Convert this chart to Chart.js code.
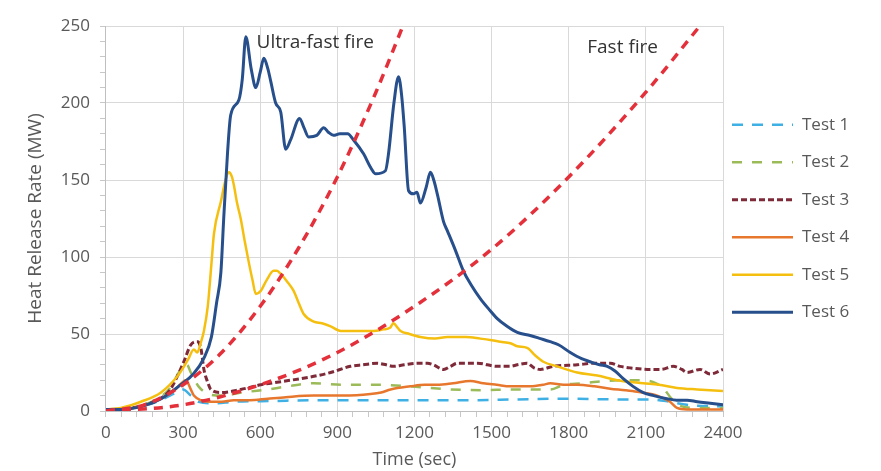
<!DOCTYPE html>
<html>
<head>
<meta charset="utf-8">
<script src="https://cdn.jsdelivr.net/npm/chart.js@4.4.1/dist/chart.umd.min.js"></script>
<style>
    html, body { margin: 0; padding: 0; background: #ffffff; }
    #wrap { position: relative; width: 881px; height: 471px; }
</style>
</head>
<body>
<div id="wrap"><canvas id="hrr-chart"></canvas></div>
<script>
// Heat release rate curves, [time (s), HRR (MW)]
const test1 = [[0,1],[100,2],[200,6],[260,11],[300,14],[330,10],[360,6],[420,5],[497,6],[652,6.5],[800,7],[1000,7],[1200,7],[1400,7],[1600,7.5],[1800,8],[2000,7.5],[2117,7.5],[2194,6],[2260,4],[2400,3]];
const test2 = [[0,1],[100,2],[200,8],[250,15],[291,27],[315,30],[330,25],[360,16],[400,11],[450,10],[530,12],[629,14],[707,16],[808,18],[924,17],[1056,17],[1184,16],[1340,14],[1468,13.5],[1573,14],[1728,14],[1780,17],[1850,18],[1911,19],[2000,20],[2090,20],[2140,18],[2167,15],[2200,8],[2240,3],[2300,2],[2400,2]];
const test3 = [[0,1],[50,1],[100,2],[150,4],[200,7],[250,14],[303,32],[330,43],[357,45],[370,40],[381,27],[395,19],[408,14],[447,12],[524,14],[602,17],[680,19],[757,21],[823,23],[874,25],[951,29],[1000,30],[1056,31],[1090,30],[1118,29],[1160,30],[1212,31],[1250,31],[1274,30],[1313,27],[1340,29],[1367,31],[1445,31],[1522,29],[1573,29],[1600,30],[1638,31],[1665,28],[1689,27],[1740,29],[1833,30],[1900,31],[1961,31],[2000,29],[2039,28],[2117,27],[2160,27],[2206,29],[2240,27],[2260,25],[2311,27],[2350,24],[2400,27]];
const test4 = [[0,0],[60,1],[140,3],[215,8],[270,14],[311,20],[330,14],[342,10],[370,7],[408,6],[450,6],[497,7],[560,7],[629,8],[700,9],[808,10],[924,10],[1029,11],[1070,12],[1107,14],[1184,16],[1240,17],[1289,17],[1350,18],[1417,19.5],[1468,18],[1520,17],[1573,16],[1650,16],[1700,17],[1728,18],[1780,17],[1833,17],[1900,16],[1961,14.5],[2020,13.5],[2066,12.5],[2144,10],[2194,6],[2221,2],[2260,1],[2400,1]];
const test5 = [[0,1],[58,2],[136,6],[214,12],[280,23],[318,33],[342,40],[355,38],[370,45],[381,52],[396,68],[410,95],[420,115],[447,136],[465,150],[478,155],[490,152],[497,147],[510,135],[524,125],[540,110],[555,97],[570,85],[583,76],[602,78],[625,85],[652,91],[665,91],[680,89],[705,84],[730,78],[750,70],[769,63],[808,58],[840,57],[874,55],[913,52],[960,52],[1002,52],[1040,52],[1080,53],[1105,54],[1118,57],[1130,55],[1146,52],[1180,50],[1223,48],[1280,47],[1328,48],[1400,48],[1456,47],[1500,46],[1534,45],[1573,44],[1600,42],[1638,41],[1670,36],[1701,32],[1755,29],[1833,25],[1911,23],[1988,20],[2090,18],[2150,17],[2221,15],[2300,14],[2400,13]];
const test6 = [[0,1],[60,1],[140,3],[215,8],[290,17],[340,24],[380,34],[410,48],[430,70],[447,90],[458,125],[473,168],[485,192],[517,202],[530,215],[544,243],[565,222],[583,210],[600,220],[614,229],[630,222],[641,214],[660,200],[680,194],[699,170],[718,176],[753,190],[770,184],[788,178],[820,179],[847,184],[865,181],[885,179],[910,180],[940,180],[963,176],[1002,167],[1030,158],[1049,154],[1087,156],[1099,167],[1120,200],[1138,217],[1150,205],[1160,185],[1177,143],[1196,141],[1210,142],[1223,135],[1245,145],[1262,155],[1275,150],[1290,140],[1313,123],[1328,117],[1360,104],[1390,91],[1420,82],[1456,73],[1490,66],[1522,60],[1560,55],[1600,51],[1650,49],[1690,47],[1728,45],[1760,43],[1806,38],[1850,34],[1883,32],[1920,30],[1950,29],[1980,26],[2012,21],[2050,16],[2090,12],[2130,10],[2182,8],[2220,7],[2260,7],[2300,6],[2350,5],[2400,4]];

// design fire growth curves
const ultraFast = [[0,0],[150,4],[300,17],[450,38],[600,68],[750,106],[900,152],[1050,207],[1155,250]];
const fastFire = [[0,0],[300,4],[600,17],[900,38],[1200,68],[1500,105],[1800,152],[2100,207],[2310,250]];

const testLabels = ['Test 1', 'Test 2', 'Test 3', 'Test 4', 'Test 5', 'Test 6'];
const curveNotes = [
    { text: 'Ultra-fast fire', x: 586, y: 239 },
    { text: 'Fast fire', x: 1872, y: 236 }
];
const xTicks = [0, 300, 600, 900, 1200, 1500, 1800, 2100, 2400];
const yTicks = [0, 50, 100, 150, 200, 250];

const FONT = '"Open Sans", sans-serif';
const GREY = '#595959';

function toPoints(arr) {
    return arr.map(p => ({ x: p[0], y: p[1] }));
}

// text labels next to the design fire curves
const notesPlugin = {
    id: 'curveNotes',
    afterDatasetsDraw(chart) {
        const { ctx, scales } = chart;
        ctx.save();
        ctx.font = '19px ' + FONT;
        ctx.fillStyle = '#333333';
        ctx.textBaseline = 'middle';
        curveNotes.forEach(n => {
            ctx.fillText(n.text, scales.x.getPixelForValue(n.x), scales.y.getPixelForValue(n.y));
        });
        ctx.restore();
    }
};

// legend with dashed line samples, right of the plot
const sideLegend = {
    id: 'sideLegend',
    afterDraw(chart) {
        const { ctx, chartArea } = chart;
        const items = chart.data.datasets.filter(d => testLabels.includes(d.label));
        const gap = 37.5;
        const midY = (chartArea.top + chartArea.bottom) / 2;
        const y0 = midY - gap * (items.length - 1) / 2;
        const x0 = chartArea.right + 9;
        ctx.save();
        ctx.font = '17px ' + FONT;
        ctx.textBaseline = 'middle';
        items.forEach((d, i) => {
            const y = y0 + i * gap;
            ctx.beginPath();
            ctx.setLineDash(d.borderDash || []);
            ctx.lineWidth = d.borderWidth;
            ctx.strokeStyle = d.borderColor;
            ctx.moveTo(x0, y);
            ctx.lineTo(x0 + 61, y);
            ctx.stroke();
            ctx.setLineDash([]);
            ctx.fillStyle = GREY;
            ctx.fillText(d.label, x0 + 70, y);
        });
        ctx.restore();
    }
};

document.addEventListener('DOMContentLoaded', function() {
    Chart.defaults.font.family = FONT;
    Chart.defaults.color = GREY;

    const series = [test1, test2, test3, test4, test5, test6];
    const colors = ['#3fb0e4', '#9bbb59', '#7e2a38', '#e8772e', '#f5bf10', '#274f8c'];
    const dashes = [[11, 9], [10, 10], [6, 3], [], [], []];
    const widths = [2.5, 2.5, 3, 2.5, 2.5, 3];

    const datasets = series.map((s, i) => ({
        label: testLabels[i],
        data: toPoints(s),
        borderColor: colors[i],
        backgroundColor: colors[i],
        borderDash: dashes[i],
        borderWidth: widths[i],
        pointRadius: 0,
        cubicInterpolationMode: 'monotone',
        order: 10 - i
    }));

    [ultraFast, fastFire].forEach(c => {
        datasets.push({
            label: 'design',
            data: toPoints(c),
            borderColor: '#e3303a',
            backgroundColor: '#e3303a',
            borderDash: [9, 7],
            borderWidth: 3.5,
            pointRadius: 0,
            cubicInterpolationMode: 'monotone',
            order: 0
        });
    });

    new Chart(document.getElementById('hrr-chart'), {
        type: 'line',
        data: { datasets: datasets },
        options: {
            responsive: true,
            maintainAspectRatio: false,
            animation: false,
            layout: { padding: { left: 24, top: 26, right: 158, bottom: 0 } },
            scales: {
                x: {
                    type: 'linear',
                    min: 0,
                    max: 2400,
                    ticks: {
                        stepSize: 60,
                        autoSkip: false,
                        maxRotation: 0,
                        padding: 6,
                        font: { size: 17 },
                        color: GREY,
                        callback: v => xTicks.includes(v) ? v : ''
                    },
                    grid: {
                        color: c => (c.tick && xTicks.includes(c.tick.value)) ? '#d9d9d9' : 'rgba(0,0,0,0)',
                        tickColor: '#c8c8c8',
                        tickLength: 6
                    },
                    border: { color: '#bfbfbf' },
                    title: {
                        display: true,
                        text: 'Time (sec)',
                        font: { size: 18 },
                        color: GREY,
                        padding: { top: 0, bottom: 0 }
                    }
                },
                y: {
                    min: 0,
                    max: 250,
                    ticks: {
                        stepSize: 10,
                        autoSkip: false,
                        padding: 10,
                        font: { size: 17 },
                        color: GREY,
                        callback: v => yTicks.includes(v) ? v : ''
                    },
                    grid: {
                        color: c => (c.tick && yTicks.includes(c.tick.value)) ? '#d9d9d9' : 'rgba(0,0,0,0)',
                        tickColor: '#c8c8c8',
                        tickLength: 6
                    },
                    border: { color: '#bfbfbf' },
                    title: {
                        display: true,
                        text: 'Heat Release Rate (MW)',
                        font: { size: 19 },
                        color: GREY,
                        padding: { top: 0, bottom: 4 }
                    }
                }
            },
            plugins: {
                legend: { display: false },
                tooltip: { enabled: false }
            }
        },
        plugins: [notesPlugin, sideLegend]
    });
});
</script>
</body>
</html>
